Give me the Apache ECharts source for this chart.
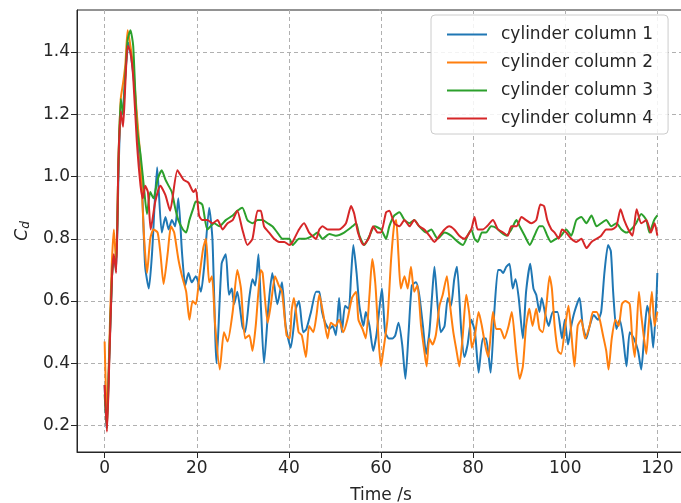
<!DOCTYPE html>
<html>
<head>
<meta charset="utf-8">
<script src="https://cdn.jsdelivr.net/npm/echarts@6/dist/echarts.min.js"></script>
<style>
  html, body { margin: 0; padding: 0; background: #fff; }
  #chart { width: 681px; height: 503px; }
</style>
</head>
<body>
<div id="chart"></div>
<script>
// values (time in s, drag coefficient)
var xTicks = [0, 20, 40, 60, 80, 100, 120];
var yTicks = [0.2, 0.4, 0.6, 0.8, 1.0, 1.2, 1.4];
var names = ['cylinder column 1', 'cylinder column 2', 'cylinder column 3', 'cylinder column 4'];

var t1 = [0, 0.4, 1.0, 1.6, 2.0, 2.5, 3.0, 3.4, 4.0, 4.6, 5.2, 5.8, 6.4, 7.0, 7.6, 8.1, 8.8, 9.6, 10.3, 11.4, 12.4, 13.2, 13.9, 14.6, 15.3, 16.0, 16.8, 17.5, 18.2, 18.9, 19.8, 20.9, 21.6, 22.7, 23.4, 24.3, 25.4, 26.3, 27.0, 27.6, 28.1, 28.8, 29.9, 30.5, 31.4, 32.1, 32.7, 33.4, 33.9, 34.6, 35.6, 36.4, 37.5, 38.5, 39.3, 40.4, 41.5, 42.2, 43.1, 43.8, 44.8, 45.9, 46.6, 47.2, 47.9, 48.8, 49.5, 50.2, 50.9, 51.5, 52.2, 53.0, 53.5, 54.0, 54.7, 55.3, 56.2, 56.7, 57.5, 58.3, 59.0, 59.5, 60.2, 60.9, 61.7, 62.5, 63.1, 63.8, 64.6, 65.3, 66.0, 66.7, 67.6, 68.3, 69.1, 69.8, 70.5, 71.1, 71.6, 72.3, 73.0, 73.8, 74.5, 75.2, 75.9, 76.5, 77.4, 78.1, 78.8, 79.6, 80.4, 81.2, 82.1, 82.8, 83.8, 84.6, 85.4, 85.9, 86.5, 87.2, 87.9, 88.6, 89.2, 89.9, 90.8, 91.5, 92.4, 93.1, 93.7, 94.4, 94.9, 95.7, 96.4, 97.3, 98.3, 99.3, 99.9, 100.6, 101.3, 102.0, 103.1, 103.8, 104.6, 105.3, 106.2, 107.1, 107.8, 108.5, 109.3, 109.9, 110.4, 111.1, 111.8, 112.5, 113.3, 114.0, 114.9, 115.8, 116.5, 117.2, 117.8, 118.6, 119.1, 119.8, 120.0];
var cyl1 = [0.33, 0.19, 0.42, 0.68, 0.74, 0.70, 1.00, 1.18, 1.22, 1.35, 1.43, 1.38, 1.30, 1.18, 1.05, 0.97, 0.71, 0.64, 0.755, 1.03, 0.82, 0.87, 0.83, 0.86, 0.84, 0.93, 0.755, 0.65, 0.69, 0.66, 0.68, 0.63, 0.71, 0.90, 0.80, 0.40, 0.72, 0.75, 0.62, 0.64, 0.59, 0.63, 0.52, 0.50, 0.61, 0.67, 0.65, 0.75, 0.59, 0.40, 0.59, 0.69, 0.59, 0.66, 0.52, 0.45, 0.575, 0.60, 0.50, 0.51, 0.565, 0.63, 0.63, 0.565, 0.53, 0.51, 0.52, 0.49, 0.61, 0.50, 0.585, 0.575, 0.68, 0.78, 0.69, 0.585, 0.52, 0.565, 0.52, 0.44, 0.49, 0.555, 0.64, 0.50, 0.48, 0.48, 0.49, 0.53, 0.46, 0.35, 0.50, 0.65, 0.66, 0.62, 0.52, 0.43, 0.50, 0.62, 0.71, 0.585, 0.50, 0.52, 0.61, 0.585, 0.67, 0.71, 0.51, 0.42, 0.46, 0.54, 0.50, 0.37, 0.48, 0.48, 0.37, 0.565, 0.70, 0.70, 0.69, 0.71, 0.72, 0.64, 0.67, 0.61, 0.48, 0.63, 0.72, 0.64, 0.62, 0.565, 0.61, 0.555, 0.52, 0.565, 0.565, 0.48, 0.54, 0.46, 0.52, 0.565, 0.61, 0.52, 0.48, 0.52, 0.555, 0.54, 0.565, 0.69, 0.78, 0.76, 0.63, 0.51, 0.54, 0.49, 0.39, 0.50, 0.48, 0.44, 0.38, 0.50, 0.585, 0.53, 0.45, 0.61, 0.69];

var t2 = [0, 0.5, 1.0, 1.5, 2.0, 2.5, 3.0, 3.5, 4.0, 4.5, 5.0, 5.6, 6.2, 7.0, 7.8, 8.5, 9.2, 9.9, 10.6, 11.5, 12.1, 12.8, 13.7, 14.4, 15.1, 16.0, 16.8, 17.7, 18.4, 19.1, 19.8, 20.5, 21.4, 22.0, 22.7, 23.3, 24.0, 25.0, 25.9, 26.7, 27.8, 28.8, 29.6, 30.5, 31.4, 32.1, 32.8, 33.9, 34.3, 35.4, 36.1, 37.0, 37.8, 38.5, 39.5, 40.2, 40.6, 41.1, 42.1, 42.8, 43.7, 44.4, 45.3, 46.0, 46.6, 47.5, 48.4, 49.1, 50.1, 50.9, 51.8, 52.7, 53.7, 54.6, 55.1, 56.0, 56.7, 57.5, 58.1, 58.8, 59.5, 60.0, 60.5, 61.4, 62.2, 62.9, 63.3, 63.8, 64.3, 65.1, 65.8, 66.5, 67.2, 67.9, 68.7, 69.4, 69.9, 70.5, 71.2, 71.9, 72.7, 73.4, 74.3, 75.0, 75.7, 76.4, 77.0, 77.7, 78.5, 79.2, 79.7, 80.3, 81.2, 81.9, 82.6, 83.3, 84.3, 85.0, 85.9, 86.8, 87.7, 88.4, 89.3, 90.1, 90.8, 91.5, 92.2, 92.9, 93.7, 94.4, 95.1, 95.9, 96.6, 97.1, 97.7, 98.4, 99.1, 100.0, 100.7, 101.3, 102.0, 102.7, 103.5, 104.3, 105.3, 106.0, 106.8, 107.5, 108.2, 108.9, 109.4, 110.1, 110.9, 111.6, 112.3, 113.0, 114.0, 114.5, 115.1, 116.0, 116.5, 117.1, 117.6, 118.1, 118.8, 119.4, 120.0];
var cyl2 = [0.47, 0.22, 0.45, 0.70, 0.83, 0.72, 1.05, 1.25, 1.30, 1.36, 1.47, 1.42, 1.35, 1.20, 1.05, 0.82, 0.69, 0.80, 0.83, 0.82, 0.755, 0.655, 0.755, 0.84, 0.82, 0.735, 0.68, 0.63, 0.54, 0.60, 0.59, 0.67, 0.77, 0.80, 0.66, 0.68, 0.52, 0.38, 0.50, 0.47, 0.565, 0.70, 0.64, 0.48, 0.49, 0.44, 0.52, 0.70, 0.69, 0.53, 0.59, 0.68, 0.65, 0.63, 0.49, 0.48, 0.57, 0.61, 0.50, 0.49, 0.42, 0.52, 0.50, 0.555, 0.62, 0.555, 0.48, 0.53, 0.52, 0.54, 0.50, 0.54, 0.61, 0.63, 0.54, 0.51, 0.48, 0.62, 0.735, 0.65, 0.47, 0.39, 0.44, 0.54, 0.735, 0.85, 0.86, 0.745, 0.64, 0.68, 0.64, 0.71, 0.63, 0.65, 0.52, 0.44, 0.39, 0.48, 0.46, 0.49, 0.585, 0.62, 0.68, 0.585, 0.50, 0.44, 0.39, 0.48, 0.62, 0.555, 0.45, 0.48, 0.565, 0.52, 0.46, 0.42, 0.565, 0.51, 0.51, 0.48, 0.52, 0.565, 0.44, 0.35, 0.39, 0.52, 0.575, 0.52, 0.575, 0.51, 0.50, 0.585, 0.68, 0.64, 0.52, 0.44, 0.43, 0.52, 0.585, 0.50, 0.39, 0.52, 0.54, 0.48, 0.52, 0.565, 0.565, 0.54, 0.49, 0.44, 0.38, 0.48, 0.54, 0.52, 0.59, 0.60, 0.59, 0.49, 0.42, 0.63, 0.555, 0.48, 0.43, 0.52, 0.63, 0.52, 0.565];

var t3 = [0, 0.5, 1.0, 1.6, 2.0, 2.5, 3.0, 3.5, 4.0, 4.5, 5.0, 5.6, 6.2, 7.0, 7.8, 8.5, 9.2, 9.9, 10.6, 11.5, 12.4, 13.2, 13.9, 14.6, 15.3, 16.0, 17.0, 17.7, 18.4, 19.3, 19.8, 21.2, 22.3, 23.8, 24.9, 26.3, 27.8, 28.8, 29.9, 31.0, 32.1, 33.2, 34.3, 35.4, 36.4, 37.5, 38.6, 40.1, 40.8, 42.2, 43.7, 45.2, 46.2, 47.3, 48.8, 50.2, 52.0, 53.8, 54.6, 55.3, 56.4, 57.5, 58.6, 60.0, 61.1, 61.8, 62.9, 64.0, 65.1, 66.2, 67.2, 68.3, 69.8, 70.9, 72.3, 73.8, 75.2, 76.7, 77.8, 78.8, 79.6, 80.3, 81.0, 81.9, 82.8, 83.9, 85.0, 86.1, 87.2, 88.3, 89.4, 90.1, 91.2, 92.3, 93.3, 94.4, 95.1, 96.1, 96.9, 98.0, 99.1, 100.2, 101.3, 102.4, 103.5, 104.6, 105.7, 106.8, 107.8, 108.9, 110.0, 111.1, 112.2, 113.3, 114.3, 115.4, 116.5, 117.6, 118.3, 119.3, 120.0];
var cyl3 = [0.30, 0.19, 0.42, 0.68, 0.74, 0.72, 1.05, 1.25, 1.20, 1.33, 1.44, 1.47, 1.42, 1.16, 1.07, 0.97, 0.88, 0.95, 0.93, 0.99, 1.02, 0.99, 0.97, 0.95, 0.90, 0.86, 0.83, 0.82, 0.86, 0.90, 0.92, 0.91, 0.83, 0.85, 0.84, 0.86, 0.875, 0.89, 0.90, 0.86, 0.85, 0.86, 0.86, 0.85, 0.84, 0.82, 0.80, 0.80, 0.78, 0.80, 0.80, 0.81, 0.82, 0.80, 0.815, 0.81, 0.82, 0.84, 0.85, 0.81, 0.78, 0.81, 0.84, 0.83, 0.80, 0.84, 0.875, 0.885, 0.86, 0.85, 0.86, 0.84, 0.82, 0.83, 0.80, 0.82, 0.81, 0.79, 0.78, 0.81, 0.83, 0.80, 0.79, 0.82, 0.82, 0.84, 0.835, 0.82, 0.81, 0.83, 0.86, 0.84, 0.81, 0.78, 0.81, 0.84, 0.84, 0.81, 0.79, 0.80, 0.81, 0.83, 0.81, 0.86, 0.87, 0.85, 0.875, 0.84, 0.85, 0.86, 0.84, 0.85, 0.83, 0.82, 0.83, 0.85, 0.88, 0.86, 0.82, 0.86, 0.875];

var t4 = [0, 0.5, 1.0, 1.6, 2.0, 2.5, 3.0, 3.5, 4.0, 4.5, 5.0, 5.6, 6.2, 7.0, 7.8, 8.3, 8.8, 9.4, 10.0, 11.0, 12.1, 13.2, 14.2, 15.8, 17.1, 18.2, 19.3, 19.8, 20.5, 21.2, 22.3, 23.4, 24.5, 25.6, 26.7, 27.8, 28.8, 29.9, 31.0, 32.1, 33.2, 33.9, 34.6, 35.7, 36.8, 37.9, 39.0, 40.1, 40.8, 42.2, 43.3, 44.4, 45.9, 46.6, 47.3, 48.4, 49.5, 50.9, 52.4, 53.5, 54.2, 55.0, 56.2, 57.3, 58.3, 59.3, 60.0, 61.1, 61.8, 62.9, 64.0, 65.1, 66.2, 67.2, 68.3, 69.4, 70.5, 71.6, 72.7, 73.8, 74.8, 75.9, 77.0, 78.1, 79.6, 80.3, 81.0, 82.1, 83.0, 84.3, 85.4, 86.5, 87.5, 88.3, 89.4, 90.5, 91.5, 92.6, 93.7, 94.6, 95.4, 96.1, 97.0, 97.7, 98.6, 99.3, 100.2, 101.3, 102.4, 103.5, 104.6, 105.7, 106.8, 107.8, 108.9, 110.0, 111.1, 112.0, 112.8, 113.7, 114.6, 115.5, 116.5, 117.6, 118.6, 119.4, 120.0];
var cyl4 = [0.33, 0.18, 0.40, 0.68, 0.75, 0.69, 1.05, 1.21, 1.16, 1.30, 1.42, 1.40, 1.32, 1.11, 0.97, 0.93, 0.97, 0.95, 0.83, 0.92, 0.97, 0.94, 0.89, 1.02, 0.99, 0.98, 0.95, 0.96, 0.875, 0.86, 0.86, 0.85, 0.86, 0.83, 0.85, 0.86, 0.89, 0.83, 0.78, 0.80, 0.89, 0.89, 0.84, 0.82, 0.80, 0.79, 0.79, 0.78, 0.79, 0.83, 0.85, 0.82, 0.80, 0.83, 0.84, 0.83, 0.83, 0.83, 0.85, 0.905, 0.88, 0.82, 0.78, 0.80, 0.84, 0.82, 0.82, 0.885, 0.89, 0.85, 0.84, 0.86, 0.84, 0.86, 0.84, 0.83, 0.81, 0.79, 0.81, 0.83, 0.84, 0.83, 0.81, 0.80, 0.83, 0.87, 0.83, 0.83, 0.84, 0.86, 0.83, 0.82, 0.81, 0.84, 0.84, 0.87, 0.86, 0.85, 0.86, 0.91, 0.905, 0.86, 0.83, 0.82, 0.80, 0.83, 0.82, 0.80, 0.79, 0.80, 0.77, 0.79, 0.80, 0.81, 0.83, 0.83, 0.84, 0.895, 0.86, 0.83, 0.81, 0.895, 0.85, 0.86, 0.82, 0.85, 0.81];

var colors = ['#1f77b4', '#ff7f0e', '#2ca02c', '#d62728'];

function pairs(ts, vs) {
    var out = [];
    for (var i = 0; i < ts.length; i++) out.push([ts[i], vs[i]]);
    return out;
}

var seriesData = [pairs(t1, cyl1), pairs(t2, cyl2), pairs(t3, cyl3), pairs(t4, cyl4)];

var font = 'DejaVu Sans';
var textColor = '#262626';

var option = {
    animation: false,
    backgroundColor: '#fff',
    color: colors,
    grid: {
        left: 77, top: 10, width: 608, height: 442,
        outerBoundsMode: 'none',
        show: true, borderColor: '#262626', borderWidth: 1
    },
    legend: {
        data: names,
        orient: 'vertical',
        left: 431, top: 15,
        padding: [11, 15, 7, 16],
        icon: 'rect',
        itemWidth: 40, itemHeight: 2, itemGap: 11,
        backgroundColor: 'rgba(255,255,255,0.85)',
        borderColor: '#cccccc', borderWidth: 1, borderRadius: 4,
        textStyle: { fontFamily: font, fontSize: 17, lineHeight: 17, color: textColor, padding: [0, 0, 0, 9] }
    },
    xAxis: {
        type: 'value',
        min: -6, max: 126,
        name: 'Time /s',
        nameLocation: 'middle',
        nameGap: 35,
        nameTextStyle: { fontFamily: font, fontSize: 17, color: textColor },
        axisLine: { show: true, onZero: false, lineStyle: { color: '#262626', width: 1 } },
        axisTick: { show: true, length: 6, customValues: xTicks, lineStyle: { color: '#262626' } },
        axisLabel: { customValues: xTicks, margin: 8, fontFamily: font, fontSize: 17, color: textColor },
        splitLine: { show: true, lineStyle: { color: '#b0b0b0', type: [4, 3], width: 1 } }
    },
    yAxis: {
        type: 'value',
        min: 0.115, max: 1.535,
        name: '{c|C}{d|d}',
        nameLocation: 'middle',
        nameGap: 44,
        nameRotate: 90,
        nameTextStyle: {
            fontFamily: font, color: textColor,
            rich: {
                c: { fontFamily: font, fontSize: 17, fontStyle: 'italic', color: textColor },
                d: { fontFamily: font, fontSize: 12, fontStyle: 'italic', color: textColor, verticalAlign: 'bottom', padding: [6, 0, 0, 0] }
            }
        },
        axisLine: { show: true, onZero: false, lineStyle: { color: '#262626', width: 1 } },
        axisTick: { show: true, length: 6, customValues: yTicks, lineStyle: { color: '#262626' } },
        axisLabel: {
            customValues: yTicks, margin: 7, fontFamily: font, fontSize: 17, color: textColor,
            formatter: function (v) { return v.toFixed(1); }
        },
        splitLine: { show: true, lineStyle: { color: '#b0b0b0', type: [4, 3], width: 1 } }
    },
    series: names.map(function (n, i) {
        return {
            name: n,
            type: 'line',
            data: seriesData[i],
            showSymbol: false,
            symbol: 'none',
            smooth: 0.2,
            lineStyle: { width: 2, color: colors[i] },
            itemStyle: { color: colors[i] }
        };
    })
};

var myChart = echarts.init(document.getElementById('chart'), null, { renderer: 'canvas' });
myChart.setOption(option);
</script>
</body>
</html>
